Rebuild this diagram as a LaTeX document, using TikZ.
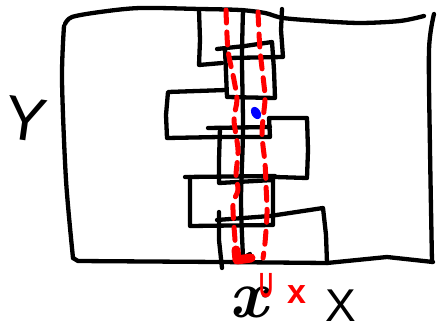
\documentclass[tikz,border=0pt]{standalone}
\usepackage{fontspec}
\newfontfamily\hand{Liberation Sans}
\begin{document}
\begin{tikzpicture}[x=1pt,y=-1pt,
  ink/.style={line width=4.3pt,line cap=round,line join=round,black},
  redink/.style={line width=5pt,line cap=round,line join=round,red,dash pattern=on 13pt off 9pt},
  lbl/.style={inner sep=0pt,outer sep=0pt}]
\useasboundingbox (0,0) rectangle (438,329);
% outer frame
\draw[ink] plot[smooth] coordinates {(65,24) (72,17) (100,12) (140,8) (200,9) (240,10) (265,13) (283,18) (320,21) (360,23) (400,21) (424,16)};
\draw[ink] plot[smooth] coordinates {(434,14) (429,50) (430,150) (432,262)};
\draw[ink] plot[smooth] coordinates {(64,26) (62,80) (66,180) (73,258)};
\draw[ink] (73,258) -- (78,261) -- (220,262) -- (327,263) -- (387,257) -- (433,262);
% top square
\draw[ink] (199,10) -- (200,40) -- (199,65) -- (222,63);
\draw[ink] (228,58) -- (283,57) -- (281,30) -- (282,9);
% second square
\draw[ink] (217,49) -- (245,46) -- (272,42) -- (274,70) -- (275,98) -- (227,97) -- (225,49);
% left square
\draw[ink] (226,90) -- (168,92) -- (166,115) -- (167,138) -- (220,137) -- (270,137) -- (269,118) -- (307,118) -- (308,150) -- (307,178) -- (275,177);
% fourth square
\draw[ink] (208,128) -- (270,127);
\draw[ink] (220,128) -- (219,160) -- (219,183) -- (273,180);
% fifth square
\draw[ink] (185,177) -- (275,176);
\draw[ink] (190,177) -- (190,226) -- (273,225) -- (273,177);
% sixth square
\draw[ink] (217,220) -- (270,216) -- (323,208) -- (326,235) -- (327,263);
\draw[ink] (219,212) -- (219,240) -- (222,268);
% central line
\draw[ink] plot[smooth] coordinates {(243,10) (242,60) (243,130) (241,200) (243,257)};
\draw[ink] (243,258) -- (250,254);
% red dashed
\draw[redink] plot[smooth] coordinates {(226,10) (228,50) (234,80) (237,100) (234,120) (238,150) (236,175) (238,190) (233,205) (235,240) (236,252)};
\draw[redink] plot[smooth] coordinates {(258,12) (260,50) (264,85) (265,100) (262,133) (265,163) (266,185) (267,213) (265,243) (263,258)};
\draw[red,line width=9pt,line cap=round,line join=round] (236,250) -- (237,260) -- (251,258);
% blue dot
\fill[blue] (256,113) ellipse [x radius=4.5, y radius=6.5, rotate=30];
% labels
\node[lbl,rotate=-8] (ylab) at (26,119) {\hand\fontsize{62}{62}\selectfont Y};
\node[lbl,anchor=base] (xlab) at (249,317) {\fontsize{68}{68}\selectfont\bfseries\itshape x};
\node[lbl,anchor=base] (Xlab) at (341,321) {\hand\fontsize{46}{46}\selectfont X};
\begin{scope}[shift={(259,297)}]
\node[lbl,red,anchor=base west,xscale=0.55,transform shape] (ulab) at (0,0) {\hand\bfseries\fontsize{35}{35}\selectfont U};
\end{scope}
\node[lbl,red,anchor=base west] (xsub) at (287,303) {\hand\bfseries\fontsize{34}{34}\selectfont x};
\end{tikzpicture}
\end{document}
